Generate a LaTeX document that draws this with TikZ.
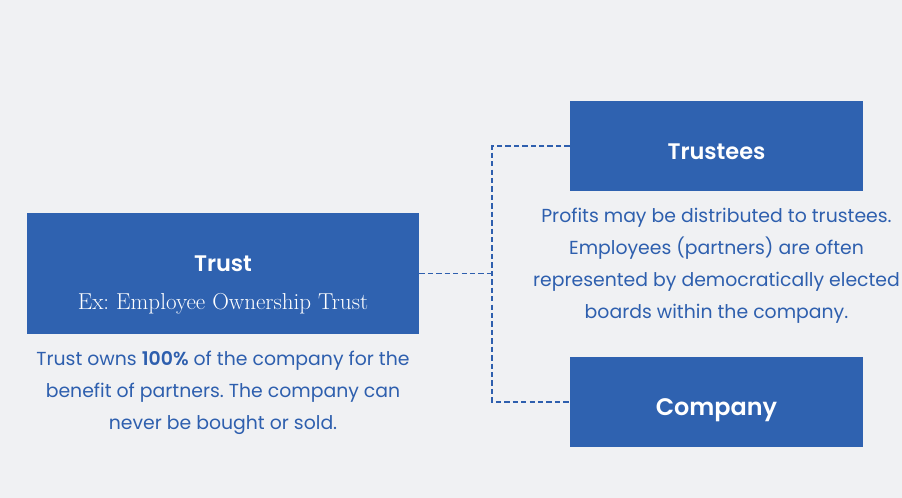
\documentclass[tikz,border=0pt]{standalone}
\usepackage{fontspec}
\setmainfont{Poppins}[BoldFont={Poppins SemiBold}]
\newfontfamily\exfont{Latin Modern Roman}
\usepackage{xcolor}
\usetikzlibrary{positioning}
\frenchspacing

\definecolor{boxblue}{HTML}{2F62B0}
\definecolor{noteblue}{HTML}{2E5FAE}
\definecolor{pagegray}{HTML}{F0F1F3}

\tikzset{
  bluebox/.style={rectangle,fill=boxblue,text=white,inner sep=0pt},
  boxtitle/.style={text=white,font=\fontsize{16}{18}\selectfont\bfseries},
  note/.style={text=noteblue,align=center,font=\fontsize{13.4}{22.8}\selectfont},
  link/.style={noteblue,line width=1pt,dash pattern=on 3.8pt off 2.2pt}
}

\begin{document}
\begin{tikzpicture}[x=0.025cm,y=-0.025cm]
% page
\fill[pagegray] (0,0) rectangle (902,498);
\useasboundingbox (0,0) rectangle (902,498);

% Trust box
\node[bluebox,minimum width=9.8cm,minimum height=3.025cm] (trust) at (223,273.5) {};
\node[boxtitle] (trusttitle) at (223,264) {Trust};
\node[text=white,font=\exfont\fontsize{16.4}{18}\selectfont] (trustex) at (223,304) {Ex: Employee Ownership Trust};
\node[note] (trustnote) at (223,392.5) {Trust owns \textbf{100\%} of the company for the\\benefit of partners. The company can\\never be bought or sold.};

% right side
\node[bluebox,minimum width=7.325cm,minimum height=2.25cm] (trustees) at (716.5,146) {};
\node[boxtitle] (trusteestitle) at (716.5,152) {Trustees};
\node[bluebox,minimum width=7.325cm,minimum height=2.25cm] (company) at (716.5,402) {};
\node[boxtitle,font=\fontsize{17}{18}\selectfont\bfseries] (companytitle) at (716.5,410.5) {Company};
\node[note] (trusteesnote) at (716.5,265.5) {Profits may be distributed to trustees.\\Employees (partners) are often\\represented by democratically elected\\boards within the company.};

% dashed links
\coordinate (split) at (492,273.5);
\draw[link] (trust.east) -- (split);
\draw[link] (trustees.west) -| (split) |- (company.west);
\end{tikzpicture}
\end{document}
